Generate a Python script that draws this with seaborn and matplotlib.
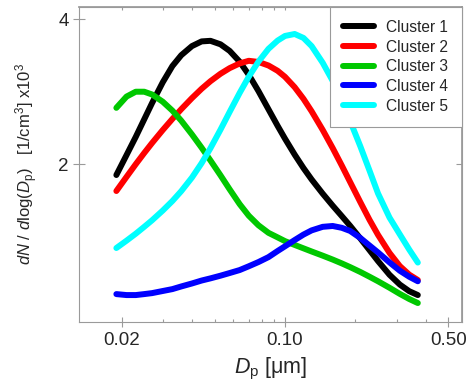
import matplotlib
matplotlib.use("Agg")
import pandas as pd
import matplotlib.pyplot as plt
import seaborn as sns
from matplotlib.ticker import FixedLocator, FixedFormatter, NullFormatter


# particle diameter [um] and size distributions dN/dlogDp [1/cm3] x10^3
dp = [0.019, 0.021, 0.023, 0.025, 0.027, 0.030, 0.033, 0.036, 0.040, 0.044,
      0.048, 0.053, 0.058, 0.064, 0.070, 0.077, 0.085, 0.093, 0.100, 0.110,
      0.120, 0.130, 0.145, 0.160, 0.175, 0.190, 0.210, 0.230, 0.250, 0.280,
      0.310, 0.340, 0.370]

cluster1 = [1.900, 2.090, 2.280, 2.480, 2.680, 2.960, 3.200, 3.370, 3.520, 3.600,
            3.610, 3.550, 3.440, 3.267, 3.069, 2.839, 2.602, 2.404, 2.261, 2.095,
            1.964, 1.860, 1.738, 1.641, 1.561, 1.490, 1.403, 1.326, 1.259, 1.179,
            1.125, 1.090, 1.070]
cluster2 = [1.760, 1.883, 2.001, 2.111, 2.214, 2.356, 2.485, 2.603, 2.745, 2.870,
            2.976, 3.084, 3.168, 3.240, 3.281, 3.263, 3.208, 3.128, 3.039, 2.892,
            2.735, 2.577, 2.357, 2.161, 1.988, 1.837, 1.669, 1.533, 1.427, 1.309,
            1.229, 1.180, 1.150]
cluster3 = [2.620, 2.765, 2.830, 2.830, 2.793, 2.698, 2.585, 2.464, 2.307, 2.165,
            2.037, 1.897, 1.774, 1.653, 1.564, 1.494, 1.441, 1.410, 1.385, 1.360,
            1.338, 1.318, 1.292, 1.268, 1.245, 1.223, 1.195, 1.168, 1.143, 1.108,
            1.076, 1.050, 1.030]
cluster4 = [1.075, 1.070, 1.070, 1.075, 1.080, 1.091, 1.101, 1.115, 1.131, 1.147,
            1.159, 1.174, 1.189, 1.206, 1.228, 1.253, 1.283, 1.321, 1.351, 1.392,
            1.429, 1.458, 1.483, 1.489, 1.476, 1.454, 1.406, 1.356, 1.312, 1.251,
            1.202, 1.168, 1.143]
cluster5 = [1.340, 1.388, 1.435, 1.483, 1.530, 1.603, 1.678, 1.759, 1.877, 2.011,
            2.160, 2.361, 2.570, 2.814, 3.040, 3.268, 3.474, 3.614, 3.695, 3.730,
            3.660, 3.520, 3.250, 2.980, 2.720, 2.460, 2.180, 1.940, 1.740, 1.550,
            1.430, 1.330, 1.250]

names = ["Cluster 1", "Cluster 2", "Cluster 3", "Cluster 4", "Cluster 5"]
colors = ["#000000", "#ff0000", "#00c800", "#0000ff", "#00ffff"]

x_major = [0.02, 0.10, 0.50]
x_major_labels = ["0.02", "0.10", "0.50"]
x_minor = [0.03, 0.04, 0.05, 0.06, 0.07, 0.08, 0.09, 0.2, 0.3, 0.4]
y_major = [2, 4]


def main():
    df = build_frame()
    draw_plot(df)


def build_frame():
    series = [cluster1, cluster2, cluster3, cluster4, cluster5]
    frames = []
    for name, values in zip(names, series):
        frames.append(pd.DataFrame({"dp": dp, "dndlogdp": values, "cluster": name}))
    return pd.concat(frames, ignore_index=True)


def draw_plot(df):
    sns.set_theme(style="white")
    plt.rcParams["font.family"] = ["Liberation Sans", "DejaVu Sans"]
    plt.rcParams["mathtext.fontset"] = "custom"
    plt.rcParams["mathtext.rm"] = "Liberation Sans"
    plt.rcParams["mathtext.it"] = "Liberation Sans:italic"
    plt.rcParams["mathtext.bf"] = "Liberation Sans:bold"

    grey = "#9a9a9a"

    fig = plt.figure(figsize=(4.73, 3.85), dpi=100)
    ax = fig.add_axes([0.167, 0.1644, 0.8091, 0.8182])

    sns.lineplot(data=df, x="dp", y="dndlogdp", hue="cluster", palette=colors,
                 linewidth=4.3, solid_capstyle="round", solid_joinstyle="round",
                 ax=ax)

    ax.set_xscale("log")
    ax.set_yscale("log")
    ax.set_xlim(0.01315, 0.570)
    ax.set_ylim(0.942, 4.25)

    ax.xaxis.set_major_locator(FixedLocator(x_major))
    ax.xaxis.set_major_formatter(FixedFormatter(x_major_labels))
    ax.xaxis.set_minor_locator(FixedLocator(x_minor))
    ax.xaxis.set_minor_formatter(NullFormatter())
    ax.yaxis.set_major_locator(FixedLocator(y_major))
    ax.yaxis.set_major_formatter(FixedFormatter([str(v) for v in y_major]))
    ax.yaxis.set_minor_locator(FixedLocator([]))

    ax.tick_params(axis="x", which="major", direction="inout", length=7.2,
                   width=0.8, color=grey, labelsize=13.5, pad=3.5, bottom=True)
    ax.tick_params(axis="x", which="minor", direction="in", length=2.5,
                   width=0.8, color=grey, bottom=True)
    ax.tick_params(axis="y", which="major", direction="inout", length=8.6,
                   width=0.8, color=grey, labelsize=13.5, pad=3, left=True)

    # mirrored ticks on top and right
    top = ax.secondary_xaxis("top")
    top.xaxis.set_major_locator(FixedLocator(x_major))
    top.xaxis.set_minor_locator(FixedLocator(x_minor))
    top.xaxis.set_major_formatter(NullFormatter())
    top.xaxis.set_minor_formatter(NullFormatter())
    top.tick_params(which="both", direction="in", length=2.5, width=0.8, color=grey)
    top.spines["top"].set_color(grey)

    right = ax.secondary_yaxis("right")
    right.yaxis.set_major_locator(FixedLocator(y_major))
    right.yaxis.set_minor_locator(FixedLocator([]))
    right.yaxis.set_major_formatter(NullFormatter())
    right.tick_params(which="both", direction="in", length=4.3, width=0.8, color=grey)
    right.spines["right"].set_color(grey)

    for side in ax.spines:
        ax.spines[side].set_color(grey)
        ax.spines[side].set_linewidth(0.8)

    ax.set_xlabel(r"$D_\mathrm{p}$ [$\mathrm{\mu}$m]", fontsize=15.5, labelpad=5)
    ax.set_ylabel(r"$dN$ / $d$log($D_\mathrm{p}$)   [1/cm$^3$] x10$^3$",
                  fontsize=12, labelpad=13)

    leg = ax.legend(loc="upper right", borderaxespad=0, fontsize=11.2,
                    frameon=True, fancybox=False, edgecolor=grey,
                    framealpha=1, handlelength=2.0, handletextpad=0.8,
                    labelspacing=0.3, borderpad=0.85)
    leg.get_frame().set_linewidth(0.8)
    leg.set_zorder(10)

    fig.savefig("out.png", dpi=100)


if __name__ == "__main__":
    main()
